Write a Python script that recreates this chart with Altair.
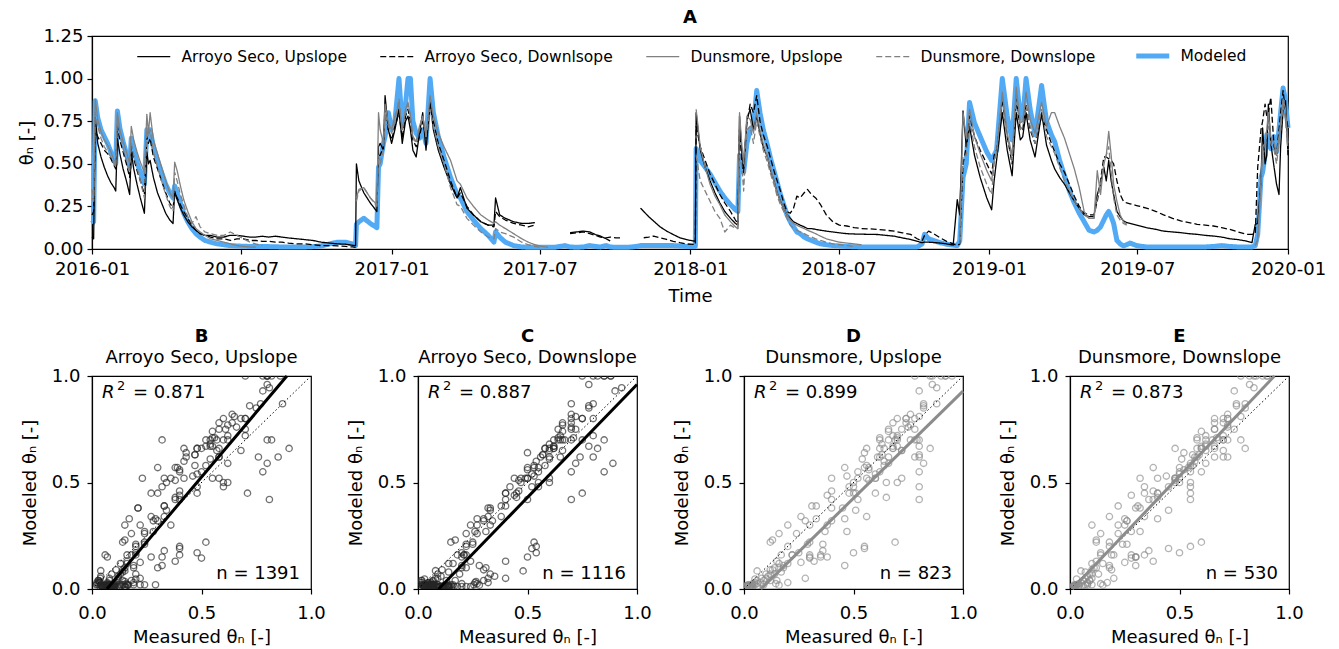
import altair as alt
import pandas as pd

N = None

# day offsets from 2016-01-01 at which all five series were read
days = [
    0, 2, 4, 7, 11, 15, 19, 23, 27, 29,
    31, 34, 38, 42, 46, 48, 51, 55, 59, 64,
    67, 69, 71, 75, 80, 85, 90, 95, 99, 101,
    104, 108, 112, 117, 122, 127, 132, 138, 145, 153,
    161, 169, 177, 185, 193, 200, 208, 216, 224, 232,
    240, 250, 260, 270, 280, 290, 300, 310, 318, 322,
    323, 326, 332, 340, 348, 350, 352, 356, 358, 362,
    366, 370, 375, 379, 383, 386, 389, 392, 396, 400,
    404, 408, 413, 417, 423, 430, 438, 446, 450, 458,
    466, 475, 484, 491, 493, 498, 505, 515, 525, 533,
    541, 549, 557, 565, 578, 584, 592, 600, 608, 615,
    621, 628, 633, 640, 646, 655, 665, 670, 674, 680,
    686, 694, 702, 710, 718, 726, 735, 737, 738, 743,
    749, 755, 761, 767, 773, 780, 786, 789, 791, 794,
    796, 800, 804, 808, 812, 816, 820, 825, 829, 833,
    837, 841, 845, 849, 853, 857, 861, 865, 870, 874,
    879, 884, 890, 897, 905, 913, 922, 931, 940, 950,
    960, 970, 980, 990, 1000, 1008, 1014, 1017, 1022, 1028,
    1036, 1044, 1052, 1057, 1060, 1064, 1068, 1072, 1078, 1085,
    1093, 1099, 1102, 1105, 1112, 1118, 1124, 1129, 1134, 1137,
    1141, 1146, 1152, 1160, 1166, 1172, 1176, 1182, 1188, 1194,
    1200, 1206, 1212, 1218, 1224, 1228, 1232, 1236, 1239, 1242,
    1245, 1248, 1252, 1256, 1260, 1264, 1268, 1276, 1288, 1300,
    1309, 1320, 1330, 1340, 1350, 1360, 1370, 1380, 1390, 1400,
    1410, 1417, 1421, 1424, 1428, 1430, 1433, 1435, 1437, 1440,
    1444, 1447, 1450, 1452, 1455, 1458, 1461,
]

modeled = [
    0.15, 0.16, 0.87, 0.77, 0.70, 0.66, 0.62, 0.57, 0.52, 0.50,
    0.81, 0.71, 0.63, 0.56, 0.48, 0.65, 0.58, 0.51, 0.45, 0.38,
    0.70, 0.66, 0.70, 0.60, 0.52, 0.45, 0.38, 0.33, 0.30, 0.37,
    0.33, 0.27, 0.21, 0.16, 0.12, 0.09, 0.07, 0.05, 0.04, 0.03,
    0.025, 0.02, 0.018, 0.016, 0.015, 0.015, 0.014, 0.014, 0.013, 0.012,
    0.012, 0.012, 0.012, 0.014, 0.018, 0.03, 0.04, 0.04, 0.03, 0.02,
    0.145, 0.16, 0.18, 0.15, 0.125, 0.48, 0.50, 0.62, 0.66, 0.80,
    0.70, 0.75, 1.0, 0.72, 0.85, 1.0, 1.0, 0.75, 0.68, 0.65,
    0.70, 0.62, 1.0, 0.80, 0.66, 0.54, 0.42, 0.32, 0.30, 0.22,
    0.17, 0.12, 0.08, 0.04, 0.10, 0.07, 0.04, 0.02, 0.012, 0.01,
    0.01, 0.01, 0.01, 0.01, 0.02, 0.012, 0.01, 0.012, 0.02, 0.015,
    0.012, 0.02, 0.012, 0.01, 0.01, 0.01, 0.015, 0.02, 0.02, 0.02,
    0.02, 0.02, 0.02, 0.02, 0.018, 0.015, 0.015, 0.015, 0.59, 0.52,
    0.48, 0.44, 0.39, 0.34, 0.30, 0.26, 0.23, 0.22, 0.55, 0.52,
    0.45, 0.62, 0.70, 0.72, 0.93, 0.80, 0.70, 0.61, 0.53, 0.46,
    0.39, 0.32, 0.26, 0.20, 0.16, 0.13, 0.10, 0.09, 0.07, 0.06,
    0.05, 0.04, 0.03, 0.025, 0.02, 0.018, 0.015, 0.013, 0.012, 0.012,
    0.012, 0.012, 0.012, 0.012, 0.012, 0.012, 0.03, 0.086, 0.06, 0.05,
    0.037, 0.028, 0.023, 0.02, 0.047, 0.42, 0.50, 0.86, 0.74, 0.66,
    0.57, 0.52, 0.55, 0.58, 1.0, 0.78, 0.64, 1.0, 0.78, 0.76,
    1.0, 0.82, 0.67, 0.96, 0.75, 0.67, 0.63, 0.52, 0.43, 0.34,
    0.27, 0.21, 0.16, 0.11, 0.10, 0.11, 0.13, 0.17, 0.20, 0.22,
    0.19, 0.15, 0.05, 0.03, 0.018, 0.025, 0.035, 0.02, 0.012, 0.012,
    0.012, 0.012, 0.012, 0.012, 0.012, 0.012, 0.015, 0.02, 0.015, 0.012,
    0.012, 0.012, 0.02, 0.085, 0.42, 0.45, 0.55, 0.67, 0.62, 0.59,
    0.66, 0.57, 0.70, 0.80, 0.945, 0.87, 0.71,
]

as_up = [
    0.07, 0.06, 0.77, 0.62, 0.54, 0.48, 0.43, 0.39, 0.36, 0.34,
    0.65, 0.56, 0.47, 0.40, 0.32, 0.57, 0.47, 0.38, 0.30, 0.21,
    0.57, 0.50, 0.52, 0.42, 0.33, 0.27, 0.21, 0.17, 0.15, 0.34,
    0.29, 0.24, 0.20, 0.16, 0.13, 0.11, 0.09, 0.08, 0.08, 0.07,
    0.07, 0.08, 0.08, 0.075, 0.07, 0.07, 0.075, 0.07, 0.075, 0.07,
    0.065, 0.06, 0.055, 0.05, 0.04, 0.035, 0.03, 0.028, 0.022, 0.02,
    0.50, 0.40, 0.33, 0.27, 0.22, 0.60, 0.62, 0.58, 0.90, 0.70,
    0.62, 0.70, 0.82, 0.62, 0.75, 0.78, 0.70, 0.58, 0.54, 0.68,
    0.80, 0.58, 0.86, 0.70, 0.58, 0.48, 0.38, 0.30, 0.36, 0.24,
    0.20, 0.16, 0.14, 0.14, 0.30, 0.20, 0.18, 0.16, 0.15, 0.15,
    0.155, N, N, N, N, 0.096, 0.10, 0.105, 0.10, 0.085,
    0.076, 0.06, 0.047, N, N, N, N, 0.24, 0.22, 0.19,
    0.164, 0.13, 0.105, 0.085, 0.066, 0.055, 0.047, 0.045, 0.80, 0.58,
    0.48, 0.40, 0.33, 0.27, 0.22, 0.18, 0.15, 0.14, 0.78, 0.55,
    0.48, 0.76, 0.82, 0.70, 0.78, 0.68, 0.60, 0.54, 0.46, 0.40,
    0.33, 0.28, 0.24, 0.20, 0.18, 0.16, 0.15, 0.14, 0.13, 0.12,
    0.12, 0.115, 0.11, 0.105, 0.10, 0.095, 0.09, 0.088, 0.087, 0.086,
    0.085, 0.08, 0.075, 0.065, 0.056, 0.045, 0.037, 0.04, 0.04, 0.038,
    0.035, 0.03, 0.023, 0.29, 0.20, 0.81, 0.60, 0.72, 0.55, 0.42,
    0.30, 0.23, 0.40, 0.52, 0.80, 0.58, 0.43, 0.80, 0.64, 0.66,
    0.80, 0.64, 0.54, 0.80, 0.61, 0.52, 0.47, 0.42, 0.38, 0.33,
    0.28, 0.24, 0.20, 0.19, 0.19, 0.32, 0.38, 0.48, 0.40, 0.52,
    0.40, 0.32, 0.22, 0.19, 0.165, 0.155, 0.15, 0.14, 0.125, 0.115,
    0.105, 0.10, 0.096, 0.09, 0.086, 0.08, 0.076, 0.07, 0.06, 0.055,
    0.047, 0.037, 0.145, 0.15, 0.40, 0.71, 0.50, 0.55, 0.85, 0.62,
    0.48, 0.38, 0.32, 0.60, 0.81, 0.87, 0.55,
]

as_down = [
    0.20, 0.22, 0.70, 0.66, 0.62, 0.58, 0.56, 0.53, 0.49, 0.47,
    0.72, 0.64, 0.57, 0.50, 0.42, 0.60, 0.53, 0.46, 0.40, 0.32,
    0.66, 0.62, 0.65, 0.54, 0.47, 0.40, 0.33, 0.27, 0.24, 0.33,
    0.30, 0.26, 0.22, 0.18, 0.14, 0.11, 0.09, 0.08, 0.07, 0.06,
    0.06, 0.05, 0.06, 0.06, 0.05, 0.05, 0.045, 0.045, 0.04, 0.04,
    0.035, 0.03, 0.03, 0.025, 0.02, 0.02, 0.018, 0.015, 0.012, 0.01,
    N, N, N, N, N, 0.55, 0.55, 0.60, 0.82, 0.70,
    0.64, 0.72, 0.80, 0.65, 0.78, 0.82, 0.75, 0.64, 0.60, 0.66,
    0.75, 0.65, 0.85, 0.75, 0.62, 0.52, 0.40, 0.30, 0.33, 0.25,
    0.20, 0.16, 0.14, 0.13, 0.22, 0.19, 0.17, 0.15, 0.14, 0.13,
    0.14, N, N, N, N, 0.09, 0.095, 0.10, 0.09, 0.08,
    0.07, 0.065, 0.07, 0.065, 0.065, N, N, N, 0.066, 0.07,
    0.076, 0.065, 0.056, 0.045, 0.037, 0.03, 0.027, 0.025, 0.72, 0.60,
    0.52, 0.44, 0.38, 0.32, 0.27, 0.22, 0.17, 0.15, 0.70, 0.50,
    0.45, 0.74, 0.85, 0.80, 0.90, 0.75, 0.67, 0.60, 0.53, 0.46,
    0.40, 0.34, 0.27, 0.22, 0.21, 0.24, 0.31, 0.30, 0.33, 0.35,
    0.32, 0.30, 0.26, 0.20, 0.16, 0.14, 0.135, 0.125, 0.12, 0.118,
    0.115, 0.11, 0.105, 0.095, 0.086, 0.06, 0.047, 0.08, 0.105, 0.09,
    0.066, 0.045, 0.03, 0.02, 0.03, 0.50, 0.60, 0.78, 0.66, 0.58,
    0.50, 0.44, 0.55, 0.58, 0.88, 0.66, 0.50, 0.88, 0.70, 0.70,
    0.85, 0.70, 0.62, 0.78, 0.70, 0.62, 0.57, 0.50, 0.45, 0.38,
    0.31, 0.25, 0.21, 0.20, 0.20, 0.28, 0.40, 0.54, 0.54, 0.53,
    0.52, 0.50, 0.40, 0.32, 0.28, 0.27, 0.265, 0.255, 0.24, 0.22,
    0.20, 0.18, 0.165, 0.155, 0.145, 0.14, 0.135, 0.125, 0.115, 0.10,
    0.086, 0.086, 0.09, 0.48, 0.70, 0.75, 0.85, 0.78, 0.80, 0.89,
    0.60, 0.55, 0.70, 0.80, 0.93, 0.80, 0.71,
]

dun_up = [
    0.35, 0.30, 0.88, 0.76, 0.69, 0.64, 0.61, 0.57, 0.52, 0.50,
    0.80, 0.70, 0.63, 0.57, 0.50, 0.72, 0.64, 0.57, 0.51, 0.45,
    0.79, 0.68, 0.80, 0.64, 0.56, 0.48, 0.40, 0.33, 0.30, 0.51,
    0.46, 0.37, 0.29, 0.22, 0.16, 0.12, 0.10, 0.08, 0.06, 0.05,
    0.04, 0.03, 0.02, 0.015, 0.012, 0.01, N, N, N, N,
    N, N, N, N, N, N, N, N, N, N,
    0.30, 0.35, 0.36, 0.30, 0.26, 0.80, 0.70, 0.62, 0.85, 0.74,
    0.70, 0.78, 0.85, 0.70, 0.82, 0.86, 0.78, 0.66, 0.63, 0.72,
    0.78, 0.66, 0.90, 0.78, 0.68, 0.60, 0.52, 0.40, 0.38, 0.30,
    0.25, 0.20, 0.17, 0.15, 0.16, 0.14, 0.12, 0.09, 0.06, 0.04,
    0.025, 0.015, 0.01, N, N, N, N, N, N, N,
    N, N, N, N, N, N, N, N, N, N,
    N, N, N, N, N, N, N, N, 0.82, 0.60,
    0.48, 0.38, 0.31, 0.26, 0.20, 0.16, 0.13, 0.12, 0.80, 0.60,
    0.50, 0.78, 0.76, 0.68, 0.80, 0.70, 0.62, 0.54, 0.47, 0.40,
    0.33, 0.28, 0.24, 0.20, 0.17, 0.15, 0.14, 0.13, 0.12, 0.11,
    0.10, 0.09, 0.075, 0.06, 0.05, 0.04, 0.035, 0.03, 0.025, N,
    N, N, N, N, N, N, N, N, N, N,
    N, N, N, N, 0.05, 0.80, 0.65, 0.82, 0.66, 0.56,
    0.46, 0.40, 0.52, 0.56, 0.92, 0.68, 0.55, 0.95, 0.74, 0.75,
    0.92, 0.76, 0.68, 0.86, 0.72, 0.80, 0.80, 0.72, 0.65, 0.56,
    0.47, 0.36, 0.22, 0.18, 0.18, 0.46, 0.32, 0.50, 0.55, 0.69,
    0.55, 0.38, 0.28, 0.20, 0.16, 0.145, N, N, N, N,
    N, N, N, N, N, N, N, N, N, N,
    N, N, 0.02, 0.06, 0.40, 0.60, 0.62, 0.70, 0.80, 0.66,
    0.62, 0.55, 0.66, 0.74, 0.88, 0.82, 0.62,
]

dun_down = [
    0.30, 0.28, 0.80, 0.72, 0.65, 0.60, 0.57, 0.54, 0.50, 0.48,
    0.78, 0.67, 0.59, 0.52, 0.45, 0.62, 0.55, 0.48, 0.40, 0.30,
    0.70, 0.66, 0.70, 0.57, 0.48, 0.40, 0.32, 0.25, 0.22, 0.45,
    0.40, 0.32, 0.26, 0.19, 0.15, 0.19, 0.13, 0.10, 0.09, 0.08,
    0.08, 0.10, 0.08, 0.06, 0.04, 0.03, 0.02, N, N, N,
    N, N, N, N, N, N, N, N, N, N,
    0.28, 0.34, 0.36, 0.30, 0.25, 0.55, 0.50, 0.58, 0.80, 0.72,
    0.68, 0.75, 0.88, 0.70, 0.80, 0.85, 0.78, 0.66, 0.62, 0.70,
    0.78, 0.66, 0.82, 0.72, 0.60, 0.50, 0.36, 0.26, 0.25, 0.18,
    0.14, 0.10, 0.07, 0.06, 0.12, 0.10, 0.09, 0.07, 0.04, 0.025,
    0.015, 0.01, N, N, N, N, N, N, N, N,
    N, N, N, N, N, N, N, N, N, N,
    N, N, N, N, N, N, N, N, 0.55, 0.40,
    0.34, 0.28, 0.22, 0.18, 0.10, 0.14, 0.12, 0.12, 0.55, 0.48,
    0.34, 0.70, 0.72, 0.62, 0.75, 0.66, 0.58, 0.51, 0.44, 0.38,
    0.31, 0.26, 0.22, 0.18, 0.14, 0.12, 0.11, 0.10, 0.09, 0.08,
    0.07, 0.06, 0.05, 0.04, 0.03, 0.025, 0.02, 0.015, N, N,
    N, N, N, N, N, N, N, N, N, N,
    N, N, N, N, 0.03, 0.55, 0.55, 0.76, 0.60, 0.48,
    0.38, 0.32, 0.50, 0.56, 0.90, 0.66, 0.52, 0.90, 0.70, 0.72,
    0.84, 0.72, 0.62, 0.82, 0.66, 0.60, 0.56, 0.48, 0.40, 0.34,
    0.28, 0.24, 0.20, 0.18, 0.18, 0.30, 0.38, 0.50, 0.55, 0.60,
    0.45, 0.30, 0.20, 0.17, 0.15, 0.14, N, N, N, N,
    N, N, N, N, N, N, N, N, N, N,
    N, N, 0.02, 0.05, 0.38, 0.55, 0.60, 0.66, 0.72, 0.62,
    0.58, 0.50, 0.62, 0.70, 0.84, 0.76, 0.58,
]

for arr in (modeled, as_up, as_down, dun_up, dun_down):
    assert len(arr) == len(days), len(arr)

legend_names = ["Arroyo Seco, Upslope", "Arroyo Seco, Downlsope",
                "Dunsmore, Upslope", "Dunsmore, Downslope", "Modeled"]
line_colors = ["#000000", "#000000", "#808080", "#808080", "#52aaf5"]
line_dashes = [[1, 0], [6, 3], [1, 0], [6, 3], [1, 0]]

panel_letters = ["B", "C", "D", "E"]
panel_titles = ["Arroyo Seco, Upslope", "Arroyo Seco, Downslope",
                "Dunsmore, Upslope", "Dunsmore, Downslope"]
panel_r2 = ["0.871", "0.887", "0.899", "0.873"]
panel_n = ["1391", "1116", "823", "530"]
fit_slope = [1.217, 1.06, 1.006, 1.083]
fit_intercept = [-0.083, -0.10, -0.077, -0.011]
point_colors = ["#262626", "#262626", "#8c8c8c", "#8c8c8c"]
fit_colors = ["#000000", "#000000", "#8c8c8c", "#8c8c8c"]

FONT = "DejaVu Sans"
base = pd.Timestamp("2016-01-01")

# ---------- time-series table ----------
rows = []
for name, vals in zip(legend_names, [as_up, as_down, dun_up, dun_down, modeled]):
    seg = 0
    gap = True
    for d, v in zip(days, vals):
        if v is None:
            gap = True
            continue
        if gap:
            seg += 1
            gap = False
        rows.append({"date": base + pd.Timedelta(days=d), "value": v,
                     "series": name, "seg": f"{name} {seg}"})
ts = pd.DataFrame(rows)

leg = alt.Legend(
    title=None, orient="none", legendX=54, legendY=12, direction="horizontal",
    columns=5, columnPadding=30, symbolType="stroke", symbolSize=1089,
    labelFontSize=15.5, labelFont=FONT, labelColor="black", labelOffset=20,
    labelLimit=400, padding=0,
    symbolStrokeWidth=alt.ExprRef(expr="datum.value === 'Modeled' ? 5 : 1.3"),
)

tick_dates = [alt.DateTime(year=y, month=m, date=1)
              for y, m in [(2016, 1), (2016, 7), (2017, 1), (2017, 7), (2018, 1),
                           (2018, 7), (2019, 1), (2019, 7), (2020, 1)]]

x_top = alt.X("date:T", title="Time",
              scale=alt.Scale(domain=[tick_dates[0], tick_dates[-1]], nice=False),
              axis=alt.Axis(values=tick_dates, format="%Y-%m", labelFlush=False,
                            labelOverlap=False, labelPadding=6, titlePadding=9))
y_top = alt.Y("value:Q", title="θₙ [-]",
              scale=alt.Scale(domain=[0, 1.25], nice=False),
              axis=alt.Axis(values=[0, 0.25, 0.5, 0.75, 1.0, 1.25], format=".2f",
                            titlePadding=6))
color_enc = alt.Color("series:N", scale=alt.Scale(domain=legend_names, range=line_colors), legend=leg)
dash_enc = alt.StrokeDash("series:N", scale=alt.Scale(domain=legend_names, range=line_dashes), legend=leg)

mod_layer = alt.Chart(ts).transform_filter(alt.datum.series == "Modeled").mark_line(
    strokeWidth=5, strokeJoin="round").encode(x=x_top, y=y_top, color=color_enc,
                                               strokeDash=dash_enc, detail="seg:N")
meas_layer = alt.Chart(ts).transform_filter(alt.datum.series != "Modeled").mark_line(
    strokeWidth=1.3, strokeJoin="round").encode(x=x_top, y=y_top, color=color_enc,
                                                 strokeDash=dash_enc, detail="seg:N")

top = alt.layer(mod_layer, meas_layer).properties(
    width=1196, height=213,
    title=alt.TitleParams("A", fontSize=18, fontWeight="bold", anchor="middle", offset=0),
)


def label(text, x, y, size=18, align="left", style="normal"):
    return alt.Chart(pd.DataFrame({"t": [text]})).mark_text(
        align=align, baseline="middle", fontSize=size, font=FONT, color="black",
        fontStyle=style).encode(x=alt.value(x), y=alt.value(y), text="t:N")


# ---------- scatter panels ----------
panels = []
for i, site in enumerate([as_up, as_down, dun_up, dun_down]):
    pairs = [(v, m) for v, m in zip(site, modeled) if v is not None and m is not None]
    sdf = pd.DataFrame(pairs, columns=["meas", "mod"])
    xs = alt.X("meas:Q", title="Measured θₙ [-]", scale=alt.Scale(domain=[0, 1], nice=False),
               axis=alt.Axis(values=[0, 0.5, 1.0], format=".1f", labelFlush=False,
                             labelPadding=10, titlePadding=6))
    ys = alt.Y("mod:Q", title="Modeled θₙ [-]", scale=alt.Scale(domain=[0, 1], nice=False),
               axis=alt.Axis(values=[0, 0.5, 1.0], format=".1f", labelFlush=False,
                             labelPadding=7, titlePadding=12))
    pts = alt.Chart(sdf).mark_point(filled=False, size=40, strokeWidth=1.3, opacity=0.65,
                                    color=point_colors[i], clip=True).encode(x=xs, y=ys)
    one = alt.Chart(pd.DataFrame({"meas": [0, 1], "mod": [0, 1]})).mark_line(
        color="black", strokeWidth=1, strokeDash=[1.5, 2.5]).encode(x=xs, y=ys)
    m, b = fit_slope[i], fit_intercept[i]
    x0 = max(0.0, -b / m)
    x1 = min(1.0, (1 - b) / m)
    fdf = pd.DataFrame({"meas": [x0, x1], "mod": [m * x0 + b, m * x1 + b]})
    fit = alt.Chart(fdf).mark_line(color=fit_colors[i], strokeWidth=3).encode(x=xs, y=ys)
    r_txt = label("R", 10, 17, style="italic")
    sup_txt = label("2", 25, 10, size=13)
    r2_txt = label(f"= {panel_r2[i]}", 41, 17)
    n_txt = label(f"n = {panel_n[i]}", 208, 198, align="right")
    panels.append(alt.layer(pts, one, fit, r_txt, sup_txt, r2_txt, n_txt).properties(
        width=219, height=213,
        title=alt.TitleParams(panel_letters[i], subtitle=panel_titles[i], fontSize=18,
                              fontWeight="bold", subtitleFontSize=18, subtitleColor="black",
                              subtitlePadding=3, anchor="middle", offset=0),
    ))

bottom = alt.hconcat(*panels, spacing=107, bounds="flush")

chart = alt.vconcat(top, bottom, spacing=127, bounds="flush").properties(
    padding={"left": 18, "top": 8, "right": 5, "bottom": 0}
).configure(font=FONT).configure_axis(
    labelFont=FONT, titleFont=FONT, labelFontSize=18, titleFontSize=18,
    titleFontWeight="normal", labelColor="black", titleColor="black",
    tickColor="black", domainColor="black", grid=False, tickSize=5,
    labelPadding=4, tickWidth=1.2, domainWidth=1.2,
).configure_view(stroke="black", strokeWidth=1.2).configure_title(
    font=FONT, subtitleFont=FONT, color="black", subtitleColor="black",
)

chart.save("out.html", embed_options={"renderer": "svg", "actions": False})
